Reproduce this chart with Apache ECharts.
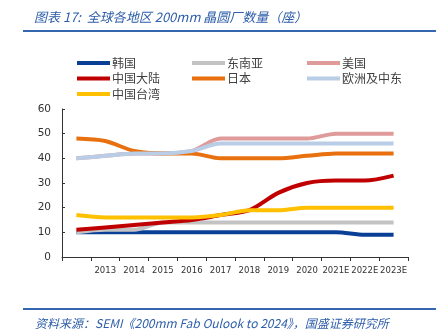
<!DOCTYPE html>
<html><head><meta charset="utf-8">
<script src="https://cdn.jsdelivr.net/npm/echarts@6/dist/echarts.min.js"></script>
<style>html,body{margin:0;padding:0;background:#fff}#c{width:446px;height:334px}</style>
</head><body><div id="c"></div>
<script>
const categories = ['', '2013', '2014', '2015', '2016', '2017', '2018', '2019', '2020', '2021E', '2022E', '2023E'];
const korea    = [10, 10, 10, 10, 10, 10, 10, 10, 10, 10, 9, 9];
const seAsia   = [10, 11, 11, 14, 14, 14, 14, 14, 14, 14, 14, 14];
const usa      = [40, 41, 42, 42, 43, 48, 48, 48, 48, 50, 50, 50];
const chinaML  = [11, 12, 13, 14, 15, 17, 19, 26, 30, 31, 31, 33];
const japan    = [48, 47, 43, 42, 42, 40, 40, 40, 41, 42, 42, 42];
const europeME = [40, 41, 42, 42, 43, 46, 46, 46, 46, 46, 46, 46];
const taiwan   = [17, 16, 16, 16, 16, 17, 19, 19, 20, 20, 20, 20];
const yTicks = [0, 10, 20, 30, 40, 50, 60];

const names = ['韩国', '东南亚', '美国', '中国大陆', '日本', '欧洲及中东', '中国台湾'];
const values = [korea, seAsia, usa, chinaML, japan, europeME, taiwan];
const colors = ['#0a3f96', '#c3c3c3', '#df9a9a', '#c00000', '#e8700f', '#b9cde6', '#ffc000'];

const cjk = '"Noto Sans CJK SC", "DejaVu Sans", sans-serif';
const num = '"DejaVu Sans", sans-serif';

const chart = echarts.init(document.getElementById('c'), null, {renderer: 'canvas'});
const legendCommon = {
  orient: 'vertical', top: 52, itemWidth: 33, itemHeight: 4, itemGap: 3.5,
  icon: 'rect',
  textStyle: {fontFamily: cjk, fontSize: 12, lineHeight: 12, color: '#404040', padding: [0, 0, 0, -3]}
};
chart.setOption({
  animation: false,
  color: colors,
  legend: [
    Object.assign({left: 72, data: ['韩国', '中国大陆', '中国台湾']}, legendCommon),
    Object.assign({left: 187, data: ['东南亚', '日本']}, legendCommon),
    Object.assign({left: 302, data: ['美国', '欧洲及中东']}, legendCommon)
  ],
  grid: {left: 62, right: 38, top: 109, bottom: 77},
  xAxis: {
    type: 'category', data: categories, boundaryGap: true,
    axisLine: {lineStyle: {color: '#333', width: 1}},
    axisTick: {show: true, length: 4, lineStyle: {color: '#333'}},
    axisLabel: {interval: 0, fontFamily: num, fontSize: 8.5, color: '#333', margin: 9}
  },
  yAxis: {
    type: 'value', min: yTicks[0], max: yTicks[yTicks.length - 1], interval: 10,
    axisLine: {show: true, lineStyle: {color: '#333', width: 1}},
    axisTick: {show: true, inside: true, length: 3, lineStyle: {color: '#333'}},
    splitLine: {show: false},
    axisLabel: {fontFamily: num, fontSize: 10.5, color: '#333', margin: 11}
  },
  series: names.map((n, i) => ({
    name: n, type: 'line', data: values[i], smooth: 0.3,
    showSymbol: false, symbol: 'none',
    lineStyle: {width: 4, color: colors[i]},
    itemStyle: {color: colors[i]}
  })),
  graphic: [
    {type: 'text', left: 34, top: 11, style: {text: '图表 17:  全球各地区 200mm 晶圆厂数量（座）', font: 'italic 13px ' + cjk, fill: '#2d5ea9'}},
    {type: 'rect', shape: {x: 23, y: 30, width: 413, height: 2}, style: {fill: '#3566b0'}},
    {type: 'rect', shape: {x: 23, y: 308, width: 413, height: 2}, style: {fill: '#3566b0'}},
    {type: 'text', left: 35, top: 317, style: {text: '资料来源：SEMI《200mm Fab Oulook to 2024》，国盛证券研究所', font: 'italic 12px ' + cjk, fill: '#2d5ea9'}}
  ]
});
</script></body></html>
